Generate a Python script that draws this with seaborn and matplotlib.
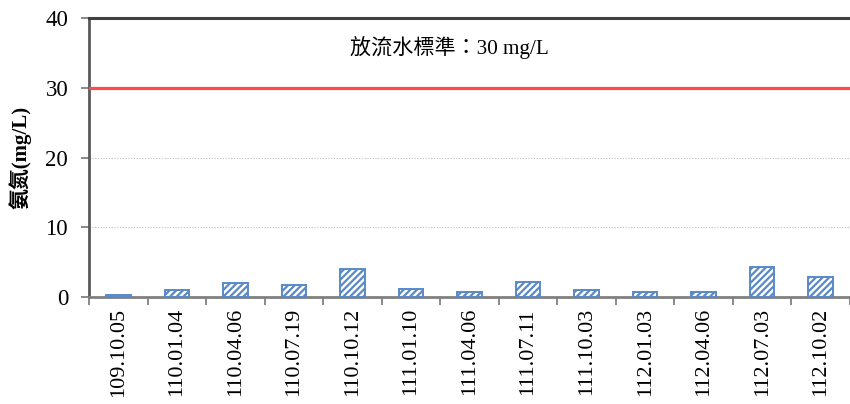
import matplotlib
matplotlib.use("Agg")
import matplotlib.pyplot as plt
import seaborn as sns
import numpy as np
import pandas as pd

# Sampling dates (ROC calendar) and ammonia-nitrogen concentrations (mg/L)
dates = ["109.10.05", "110.01.04", "110.04.06", "110.07.19", "110.10.12",
         "111.01.10", "111.04.06", "111.07.11", "111.10.03", "112.01.03",
         "112.04.06", "112.07.03", "112.10.02"]
ammonia = [0.35, 0.96, 2.06, 1.68, 4.07, 1.15, 0.67, 2.15, 1.06, 0.72,
           0.77, 4.36, 2.87]
discharge_limit = 30
limit_text = "放流水標準：30 mg/L"
y_label = "氨氮(mg/L)"
y_ticks = [0, 10, 20, 30, 40]

sns.set_theme(style="white")
fonts = ["Liberation Serif", "Noto Sans CJK TC"]
plt.rcParams["font.family"] = fonts
plt.rcParams["hatch.linewidth"] = 1.6

bar_blue = "#5A89C8"
df = pd.DataFrame({"date": dates, "value": ammonia})

fig = plt.figure(figsize=(8.5, 4.04), dpi=100)
ax = fig.add_axes([89 / 850, 1 - 297 / 404, 1 - 89 / 850, (297 - 18) / 404])

sns.barplot(data=df, x="date", y="value", color="white", width=0.42,
            edgecolor=bar_blue, linewidth=1.4, ax=ax, zorder=3)
for p in ax.patches:
    p.set_hatch("/////")
    p.set_facecolor("white")
    p.set_edgecolor(bar_blue)

# Discharge standard
ax.axhline(discharge_limit, color="#FF4B4B", lw=2.3, zorder=4)
ax.text(0.474, 0.895, limit_text, transform=ax.transAxes, ha="center",
        va="center", fontsize=15.2, color="black", family=fonts)

ax.set_ylim(0, 40)
ax.set_xlim(-0.5, (850 - 117.5) / 59)
ax.set_yticks(y_ticks)
ax.set_yticklabels([str(t) for t in y_ticks], fontsize=16.5, color="black")
ax.yaxis.grid(True, color="#BFBFBF", ls=(0, (1, 1.5)), lw=0.8, zorder=0)
ax.xaxis.grid(False)

# Category labels at bar centres, tick marks at category boundaries
ax.set_xticks(range(len(dates)))
ax.set_xticklabels(dates, rotation=90, fontsize=16, color="black")
ax.tick_params(axis="x", which="major", length=0, pad=8)
ax.set_xticks(np.arange(-0.5, len(dates), 1), minor=True)
ax.tick_params(axis="x", which="minor", length=6, width=1.3,
               color="#808080", direction="out", bottom=True)
ax.tick_params(axis="y", length=6, width=1.3, color="#808080",
               direction="out", left=True, pad=9)

ax.set_xlabel("")
ax.set_ylabel(y_label, fontsize=15, fontweight="bold", labelpad=10,
              family=fonts, color="black")

for side in ["left", "top", "bottom", "right"]:
    ax.spines[side].set_visible(True)
ax.spines["left"].set_color("#595959")
ax.spines["left"].set_linewidth(2.0)
ax.spines["top"].set_color("#404040")
ax.spines["top"].set_linewidth(2.2)
ax.spines["bottom"].set_color("#808080")
ax.spines["bottom"].set_linewidth(2.0)
ax.spines["right"].set_visible(False)

fig.savefig("out.png", dpi=100)
